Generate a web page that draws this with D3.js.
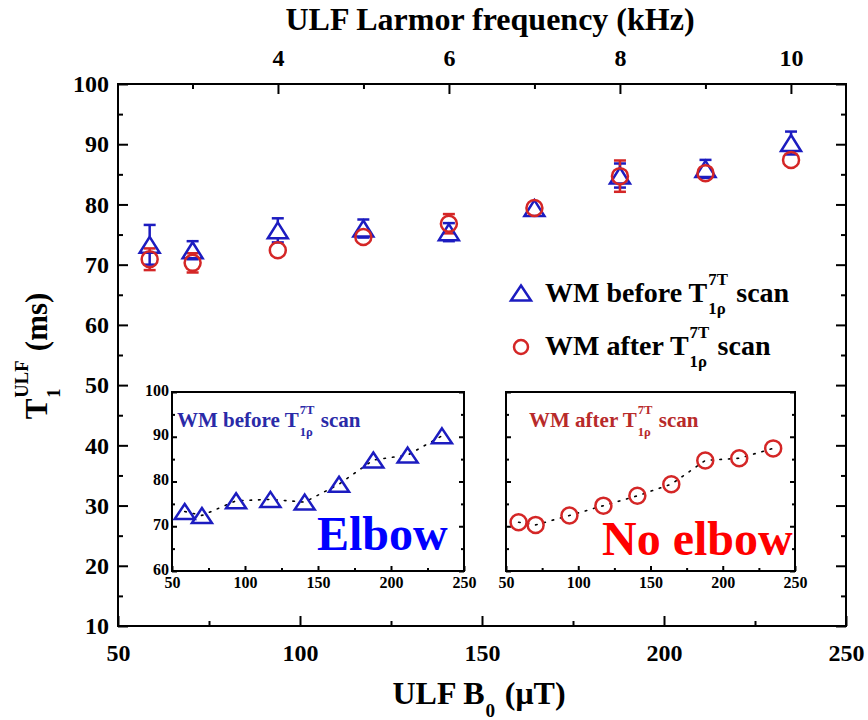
<!DOCTYPE html>
<html>
<head>
<meta charset="utf-8">
<script src="https://cdn.jsdelivr.net/npm/d3@7"></script>
<style>
   body { margin: 0; background: #fff; }
   svg text { font-family: "Liberation Serif", "Times New Roman", serif; font-weight: bold; }
</style>
</head>
<body>
<div id="chart"></div>
<script>
// ULF B0 field (uT) of each measurement
const b0Values = [58.7, 70.5, 93.9, 117.4, 140.9, 164.4, 187.9, 211.4, 234.9];
// WM before T1rho 7T scan
const beforeValues = [73.3, 72.4, 75.7, 76.0, 75.4, 79.4, 84.8, 85.9, 90.2];
const beforeErrors = [3.3, 1.5, 2.0, 1.5, 1.5, 0.8, 2.0, 1.5, 1.9];
// WM after T1rho 7T scan
const afterValues = [70.9, 70.3, 72.4, 74.6, 76.8, 79.4, 84.7, 85.2, 87.4];
const afterErrors = [1.8, 1.6, 0.7, 1.2, 1.6, 0.8, 2.6, 0.7, 1.3];

// Axis ticks
const xMajorTicks = [50, 100, 150, 200, 250];
const xMinorTicks = [75, 125, 175, 225];
const yMajorTicks = [10, 20, 30, 40, 50, 60, 70, 80, 90, 100];
const yMinorTicks = [15, 25, 35, 45, 55, 65, 75, 85, 95];
const topMajorTicks = [4, 6, 8, 10];
const topMinorTicks = [3, 5, 7, 9];
const insetYMajorTicks = [60, 70, 80, 90, 100];
const insetYMinorTicks = [65, 75, 85, 95];

const kHzPerMicroTesla = 0.042577;
const blue = "#1c1cc0";
const red = "#d42626";

const svg = d3.select("#chart").append("svg")
   .attr("width", 868)
   .attr("height", 720);

const plot = { left: 118, right: 846, top: 84, bottom: 626 };

const x = d3.scaleLinear().domain([50, 250]).range([plot.left, plot.right]);
const y = d3.scaleLinear().domain([10, 100]).range([plot.bottom, plot.top]);
const xTop = d3.scaleLinear().domain([50 * kHzPerMicroTesla, 250 * kHzPerMicroTesla]).range([plot.left, plot.right]);

// Draw one set of inward ticks with d3 axis
const addAxis = (g, axisGen, scale, values, tickLen, labels, fontSize, pad) => {
   const a = g.append("g")
      .call(axisGen(scale).tickValues(values).tickSize(-tickLen).tickPadding(pad).tickFormat(labels ? d3.format("d") : ""));
   a.select(".domain").remove();
   a.selectAll("line").attr("stroke", "#000").attr("stroke-width", 2);
   a.selectAll("text").attr("fill", "#000").style("font-size", fontSize + "px");
   return a;
};

// Text with stacked superscript / subscript after the base part
const richText = (g, x0, y0, size, color, base, sup, sub, tail) => {
   const small = size * 0.6;
   const t = g.append("text").attr("x", x0).attr("y", y0).attr("fill", color)
      .style("font-size", size + "px").text(base);
   const bw = t.node().getComputedTextLength();
   let sw = 0;
   if (sup) {
      const s = g.append("text").attr("x", x0 + bw + 1).attr("y", y0 - size * 0.62).attr("fill", color)
         .style("font-size", small + "px").text(sup);
      sw = Math.max(sw, s.node().getComputedTextLength());
   }
   if (sub) {
      const s = g.append("text").attr("x", x0 + bw + 1).attr("y", y0 + size * 0.42).attr("fill", color)
         .style("font-size", small + "px").text(sub);
      sw = Math.max(sw, s.node().getComputedTextLength());
   }
   let total = bw + 1 + sw;
   if (tail) {
      const s = g.append("text").attr("x", x0 + total + size * 0.3).attr("y", y0).attr("fill", color)
         .style("font-size", size + "px").text(tail);
      total += size * 0.3 + s.node().getComputedTextLength();
   }
   return total;
};

const trianglePath = (w, h) => `M0,${-h / 2}L${w / 2},${h / 2}L${-w / 2},${h / 2}Z`;

// Main axes
const axes = svg.append("g").attr("class", "axes");
addAxis(axes.append("g").attr("transform", `translate(0,${plot.bottom})`), d3.axisBottom, x, xMajorTicks, 10, true, 24, 18);
addAxis(axes.append("g").attr("transform", `translate(0,${plot.bottom})`), d3.axisBottom, x, xMinorTicks, 5, false, 24, 18);
addAxis(axes.append("g").attr("transform", `translate(${plot.left},0)`), d3.axisLeft, y, yMajorTicks, 10, true, 24, 9);
addAxis(axes.append("g").attr("transform", `translate(${plot.left},0)`), d3.axisLeft, y, yMinorTicks, 5, false, 24, 9);
addAxis(axes.append("g").attr("transform", `translate(${plot.right},0)`), d3.axisRight, y, yMajorTicks, 10, false, 24, 9);
addAxis(axes.append("g").attr("transform", `translate(${plot.right},0)`), d3.axisRight, y, yMinorTicks, 5, false, 24, 9);
addAxis(axes.append("g").attr("transform", `translate(0,${plot.top})`), d3.axisTop, xTop, topMajorTicks, 10, true, 24, 18);
addAxis(axes.append("g").attr("transform", `translate(0,${plot.top})`), d3.axisTop, xTop, topMinorTicks, 5, false, 24, 18);

axes.append("rect")
   .attr("x", plot.left).attr("y", plot.top)
   .attr("width", plot.right - plot.left).attr("height", plot.bottom - plot.top)
   .attr("fill", "none").attr("stroke", "#000").attr("stroke-width", 2);

// Axis titles
svg.append("text")
   .attr("x", 490).attr("y", 30).attr("text-anchor", "middle")
   .style("font-size", "32px").text("ULF Larmor frequency (kHz)");

const xTitle = svg.append("g");
const xTitleWidth = richText(xTitle, 0, 0, 32, "#000", "ULF B", null, "0", "(\u03bcT)");
xTitle.attr("transform", `translate(${479 - xTitleWidth / 2},704)`);

const yTitle = svg.append("g");
const yTitleWidth = richText(yTitle, 0, 0, 31, "#000", "T", "ULF", "1", "(ms)");
yTitle.attr("transform", `translate(47,${356 + yTitleWidth / 2}) rotate(-90)`);

// Error bars drawn outside the marker only
const drawErrors = (g, values, errors, scaleX, scaleY, half, color) => {
   const cap = 6;
   values.forEach((v, i) => {
      const cx = scaleX(b0Values[i]);
      const cy = scaleY(v);
      const yHi = scaleY(v + errors[i]);
      const yLo = scaleY(v - errors[i]);
      if (cy - yHi > half) {
         g.append("line").attr("x1", cx).attr("x2", cx).attr("y1", yHi).attr("y2", cy - half);
         g.append("line").attr("x1", cx - cap).attr("x2", cx + cap).attr("y1", yHi).attr("y2", yHi);
      }
      if (yLo - cy > half) {
         g.append("line").attr("x1", cx).attr("x2", cx).attr("y1", cy + half).attr("y2", yLo);
         g.append("line").attr("x1", cx - cap).attr("x2", cx + cap).attr("y1", yLo).attr("y2", yLo);
      }
   });
   g.selectAll("line").attr("stroke", color).attr("stroke-width", 2.5);
};

const marks = svg.append("g").attr("class", "marks");
drawErrors(marks.append("g"), beforeValues, beforeErrors, x, y, 8, blue);
drawErrors(marks.append("g"), afterValues, afterErrors, x, y, 8, red);

marks.selectAll(".tri")
   .data(beforeValues)
   .enter()
   .append("path")
   .attr("class", "tri")
   .attr("d", trianglePath(20, 16))
   .attr("transform", (d, i) => `translate(${x(b0Values[i])},${y(d)})`)
   .attr("fill", "none").attr("stroke", blue).attr("stroke-width", 2.5);

marks.selectAll(".circ")
   .data(afterValues)
   .enter()
   .append("circle")
   .attr("class", "circ")
   .attr("cx", (d, i) => x(b0Values[i]))
   .attr("cy", d => y(d))
   .attr("r", 8)
   .attr("fill", "none").attr("stroke", red).attr("stroke-width", 2.5);

// Legend
const legend = svg.append("g").attr("class", "legend");
legend.append("path").attr("d", trianglePath(20, 15)).attr("transform", "translate(521,293)")
   .attr("fill", "none").attr("stroke", blue).attr("stroke-width", 2.5);
richText(legend, 545, 302, 28, "#000", "WM before T", "7T", "1\u03c1", "scan");
legend.append("circle").attr("cx", 521).attr("cy", 347).attr("r", 7)
   .attr("fill", "none").attr("stroke", red).attr("stroke-width", 2.5);
richText(legend, 545, 355, 28, "#000", "WM after T", "7T", "1\u03c1", "scan");

// Insets
const drawInset = (left, right, values, marker, color, titleBase, titleColor, titleX, bigText, bigColor, bigX, bigY, yLabels) => {
   const top = 392, bottom = 571;
   const g = svg.append("g").attr("class", "inset");
   const ix = d3.scaleLinear().domain([50, 250]).range([left, right]);
   const iy = d3.scaleLinear().domain([60, 100]).range([bottom, top]);

   g.append("rect").attr("x", left).attr("y", top).attr("width", right - left).attr("height", bottom - top)
      .attr("fill", "#fff").attr("stroke", "#000").attr("stroke-width", 2);

   addAxis(g.append("g").attr("transform", `translate(0,${bottom})`), d3.axisBottom, ix, xMajorTicks, 5, true, 16, 6);
   addAxis(g.append("g").attr("transform", `translate(0,${bottom})`), d3.axisBottom, ix, xMinorTicks, 3, false, 16, 6);
   const yAxis = addAxis(g.append("g").attr("transform", `translate(${left},0)`), d3.axisLeft, iy, insetYMajorTicks, 5, yLabels, 16, 3);
   yAxis.selectAll("text").attr("dy", "0.2em");
   addAxis(g.append("g").attr("transform", `translate(${left},0)`), d3.axisLeft, iy, insetYMinorTicks, 3, false, 16, 3);
   addAxis(g.append("g").attr("transform", `translate(${right},0)`), d3.axisRight, iy, insetYMajorTicks, 5, false, 16, 3);
   addAxis(g.append("g").attr("transform", `translate(${right},0)`), d3.axisRight, iy, insetYMinorTicks, 3, false, 16, 3);

   const line = d3.line().x((d, i) => ix(b0Values[i])).y(d => iy(d));
   g.append("path").datum(values).attr("d", line)
      .attr("fill", "none").attr("stroke", "#000").attr("stroke-width", 1.6)
      .attr("stroke-dasharray", "1.6,7").attr("stroke-linecap", "round");

   if (marker === "triangle") {
      g.selectAll(".itri").data(values).enter().append("path")
         .attr("class", "itri")
         .attr("d", trianglePath(20, 15))
         .attr("transform", (d, i) => `translate(${ix(b0Values[i])},${iy(d)})`)
         .attr("fill", "none").attr("stroke", color).attr("stroke-width", 2.5);
   } else {
      g.selectAll(".icirc").data(values).enter().append("circle")
         .attr("class", "icirc")
         .attr("cx", (d, i) => ix(b0Values[i])).attr("cy", d => iy(d)).attr("r", 8)
         .attr("fill", "none").attr("stroke", color).attr("stroke-width", 2.5);
   }

   richText(g, titleX, 427, 21, titleColor, titleBase, "7T", "1\u03c1", "scan");
   g.append("text").attr("x", bigX).attr("y", bigY).attr("fill", bigColor)
      .style("font-size", "48px").text(bigText);
};

drawInset(172, 464, beforeValues, "triangle", blue, "WM before T", "#2a2aa8", 177, "Elbow", "#0000ff", 317, 550, true);
drawInset(506, 795, afterValues, "circle", red, "WM after T", "#b82a2a", 529, "No elbow", "#ff0000", 602, 555, false);
</script>
</body>
</html>
